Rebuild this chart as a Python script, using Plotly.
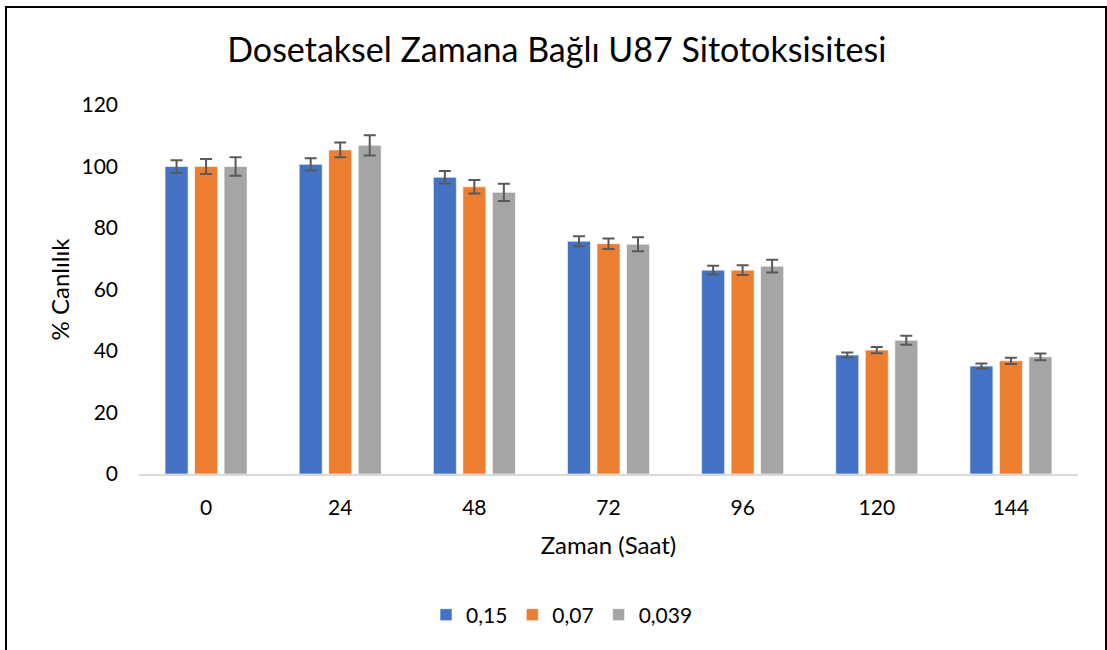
import plotly.graph_objects as go

# Zaman noktaları (saat) ve doz grupları
zaman = ["0", "24", "48", "72", "96", "120", "144"]
seri_adlari = ["0,15", "0,07", "0,039"]

canlilik_015 = [100.0, 100.7, 96.5, 75.7, 66.3, 38.7, 35.1]
canlilik_007 = [100.0, 105.4, 93.4, 74.9, 66.3, 40.3, 36.8]
canlilik_0039 = [100.0, 106.9, 91.6, 74.7, 67.6, 43.5, 38.1]

hata_015 = [2.0, 2.0, 2.0, 1.6, 1.4, 0.8, 0.8]
hata_007 = [2.4, 2.4, 2.2, 1.7, 1.6, 1.0, 1.0]
hata_0039 = [3.0, 3.3, 2.8, 2.3, 2.1, 1.5, 1.1]

renkler = ["#4472C4", "#ED7D31", "#A5A5A5"]

W, H = 1107, 650
ML, MR, MT, MB = 139, 29, 105, 176
PW, PH = W - ML - MR, H - MT - MB

fig = go.Figure()
for ad, deger, hata, renk in zip(
    seri_adlari,
    [canlilik_015, canlilik_007, canlilik_0039],
    [hata_015, hata_007, hata_0039],
    renkler,
):
    fig.add_trace(go.Bar(
        x=zaman, y=deger, name=ad,
        marker=dict(color=renk, line=dict(color="rgba(255,255,255,0.6)", width=1)),
        error_y=dict(type="data", array=hata, visible=True,
                     color="#595959", thickness=2, width=6),
    ))

# Grafik çerçevesi
def px_x(p):
    return (p - ML) / PW

def px_y(p):
    return (H - MB - p) / PH

fig.add_shape(type="rect", xref="paper", yref="paper",
              x0=px_x(6), x1=px_x(1106), y0=px_y(665), y1=px_y(7),
              line=dict(color="#000000", width=2), fillcolor="rgba(0,0,0,0)",
              layer="above")

fig.update_layout(
    width=W, height=H,
    margin=dict(l=ML, r=MR, t=MT, b=MB),
    paper_bgcolor="white", plot_bgcolor="white",
    font=dict(family="Lato, 'Open Sans', sans-serif", color="#000000", size=21),
    title=dict(text="Dosetaksel Zamana Bağlı U87 Sitotoksisitesi",
               x=0.503, xanchor="center", y=1 - 50 / H, yanchor="middle",
               font=dict(size=34, color="#000000")),
    barmode="group", bargap=0.34, bargroupgap=0.22,
    showlegend=True,
    legend=dict(orientation="h", x=px_x(562), xanchor="center",
                y=px_y(615), yanchor="middle",
                font=dict(size=21), itemwidth=30, traceorder="normal"),
    xaxis=dict(
        title=dict(text="Zaman (Saat)", font=dict(size=24), standoff=19),
        showline=True, linecolor="#D9D9D9", linewidth=2,
        showgrid=False, ticks="", ticklabelstandoff=14,
        tickfont=dict(size=21),
    ),
    yaxis=dict(
        title=dict(text="% Canlılık", font=dict(size=24), standoff=5),
        range=[0, 120], dtick=20, showgrid=False, zeroline=False,
        showline=False, ticks="", ticklabelstandoff=20,
        tickfont=dict(size=21),
    ),
)

fig.write_html("out.html")
